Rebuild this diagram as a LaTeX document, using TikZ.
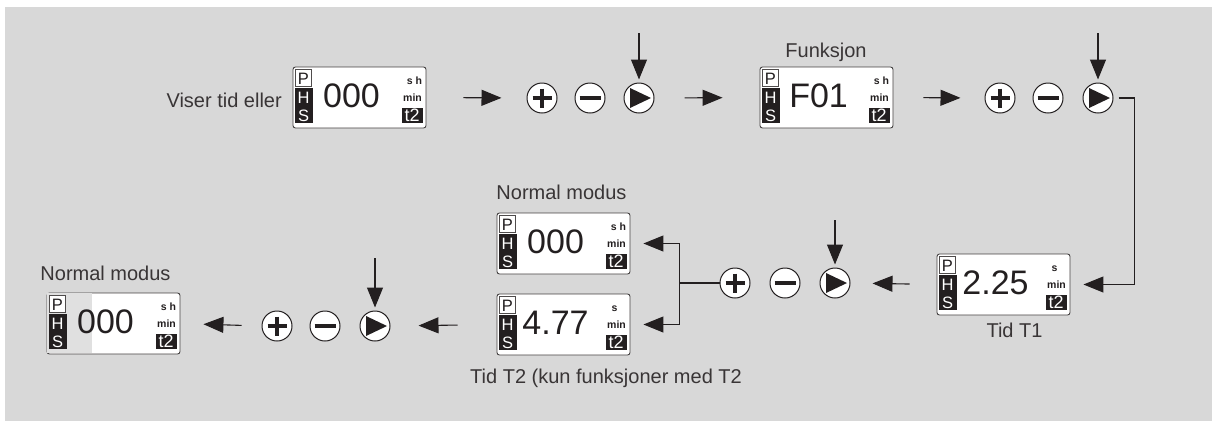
\documentclass[tikz,border=0pt]{standalone}
\usepackage{fontspec}
\setmainfont{Liberation Sans}
\usetikzlibrary{arrows.meta,calc}
\definecolor{bg}{RGB}{216,216,216}
\definecolor{ink}{RGB}{35,31,32}
\definecolor{lcdgray}{RGB}{224,224,224}
\tikzset{
  lcdbox/.style={draw=ink!85, line width=0.9pt, fill=white, rounded corners=2.5pt,
    minimum width=133pt, minimum height=61pt, inner sep=0pt},
  lcdl/.style={font=\fontsize{16.5}{16.5}\selectfont, inner sep=0pt, anchor=base},
  bigtxt/.style={font=\fontsize{34}{34}\selectfont, text=ink, inner sep=0pt, anchor=base},
  smalltxt/.style={font=\fontsize{10.5}{10.5}\selectfont\bfseries, text=ink, inner sep=0pt, anchor=base},
  t2txt/.style={font=\fontsize{18}{18}\selectfont, text=white, inner sep=0pt, anchor=base},
  lbl/.style={font=\fontsize{20}{20}\selectfont, text=ink!90, inner sep=0pt, anchor=base},
  btn/.style={circle, draw=ink, line width=1pt, fill=white, minimum size=30pt, inner sep=0pt},
  plusbtn/.style={btn, path picture={\draw[ink, line width=3.2pt]
      ($(path picture bounding box.center)+(-9.5,0)$) -- ++(19,0)
      ($(path picture bounding box.center)+(0,-9.5)$) -- ++(0,19);}},
  minusbtn/.style={btn, path picture={\draw[ink, line width=3.2pt]
      ($(path picture bounding box.center)+(-10.5,0)$) -- ++(21,0);}},
  playbtn/.style={btn, path picture={\fill[ink]
      ($(path picture bounding box.center)+(-9,-10)$) -- ++(21,10) -- ++(-21,10) -- cycle;}},
  arr/.style={draw=ink, line width=1.1pt, -{Triangle[length=20pt,width=16pt]}},
  conn/.style={draw=ink, line width=1.1pt},
}
% #1 name, #2 x0, #3 y0, #4 value, #5 unit, #6 unit x, #7 extra code
\newcommand\lcd[7]{%
  \node[lcdbox] (#1) at ({#2+66.5},{#3+30.5}) {};
  \begin{scope}[shift={(#1.north west)}]
    #7
    \draw[ink!80, line width=0.8pt, fill=white] (2.5,2.5) rectangle (19,20);
    \node[lcdl, text=ink] (#1-p) at (10.75,18) {P};
    \fill[ink] (2,21) rectangle (20,56.5);
    \node[lcdl, text=white] (#1-h) at (11,37) {H};
    \node[lcdl, text=white] (#1-s) at (11,54.5) {S};
    \node[bigtxt] (#1-v) at (59,40.5) {#4};
    \node[smalltxt] (#1-u) at (#6,18) {#5};
    \node[smalltxt] (#1-m) at (120,35) {min};
    \fill[ink] (109,41) rectangle (130,56);
    \node[t2txt] (#1-t) at (119.5,54.5) {t2};
  \end{scope}}
\begin{document}
\begin{tikzpicture}[x=1pt,y=-1pt]
  \useasboundingbox (0,0) rectangle (1212,421);
  \fill[white] (0,0) rectangle (1212,421);
  \fill[bg] (5,7) rectangle (1212,421);

  % displays
  \lcd{d1}{293}{67}{000}{s h}{122}{}
  \lcd{d2}{760}{67}{F01}{s h}{122}{}
  \lcd{dT1}{937}{254}{2.25}{s}{118}{}
  \lcd{dN}{497}{213}{000}{s h}{122}{}
  \lcd{dT2}{497}{294}{4.77}{s}{118}{}
  \lcd{dL}{47}{293}{000}{s h}{122}{\fill[lcdgray] (0.6,0.6) rectangle (45,60.4);}

  % labels
  \node[lbl, anchor=base east] (t1) at (282,107) {Viser tid eller};
  \node[lbl] (t2) at (826,57) {Funksjon};
  \node[lbl] (t3) at (1014.5,337) {Tid T1};
  \node[lbl] (t4) at (561.5,199) {Normal modus};
  \node[lbl] (t5) at (606,383) {Tid T2 (kun funksjoner med T2};
  \node[lbl] (t6) at (105.5,280) {Normal modus};

  % buttons
  \node[plusbtn]  (pa) at (542,98) {};
  \node[minusbtn] (ma) at (590,98) {};
  \node[playbtn]  (ra) at (639,98) {};
  \node[plusbtn]  (pb) at (1000,98) {};
  \node[minusbtn] (mb) at (1048,98) {};
  \node[playbtn]  (rb) at (1098,98) {};
  \node[plusbtn]  (pc) at (735,283) {};
  \node[minusbtn] (mc) at (785,283) {};
  \node[playbtn]  (rc) at (835,283) {};
  \node[plusbtn]  (pd) at (277,326) {};
  \node[minusbtn] (md) at (325,326) {};
  \node[playbtn]  (rd) at (375,326) {};

  % press arrows
  \coordinate (ka) at (639,33);
  \coordinate (kb) at (1098,33);
  \coordinate (kc) at (835,220);
  \coordinate (kd) at (375,258);
  \draw[arr, shorten >=3pt] (ka) -- (ra.north);
  \draw[arr, shorten >=3pt] (kb) -- (rb.north);
  \draw[arr, shorten >=3pt] (kc) -- (rc.north);
  \draw[arr, shorten >=3pt] (kd) -- (rd.north);

  % flow arrows
  \draw[arr, shorten <=37pt, shorten >=25pt] (d1.east) -- (pa.west);
  \draw[arr, shorten <=30pt, shorten >=37pt] (ra.east) -- (d2.west);
  \draw[arr, shorten <=30pt, shorten >=24pt] (d2.east) -- (pb.west);
  \draw[arr, shorten <=5pt, shorten >=13pt] (rb.east) -- ++(21,0) |- (dT1.east);
  \draw[arr, shorten <=27pt, shorten >=22pt] (dT1.west) -- (rc.east);
  \draw[conn] (pc.west) -- ++(-40,0) coordinate (split);
  \draw[arr, shorten >=13pt] (split) |- (dN.east);
  \draw[arr, shorten >=13pt] (split) |- (dT2.east);
  \draw[arr, shorten <=39pt, shorten >=28pt] (dT2.west) -- (rd.east);
  \draw[arr, shorten <=20pt, shorten >=23pt] (pd.west) -- (dL.east);
\end{tikzpicture}
\end{document}
